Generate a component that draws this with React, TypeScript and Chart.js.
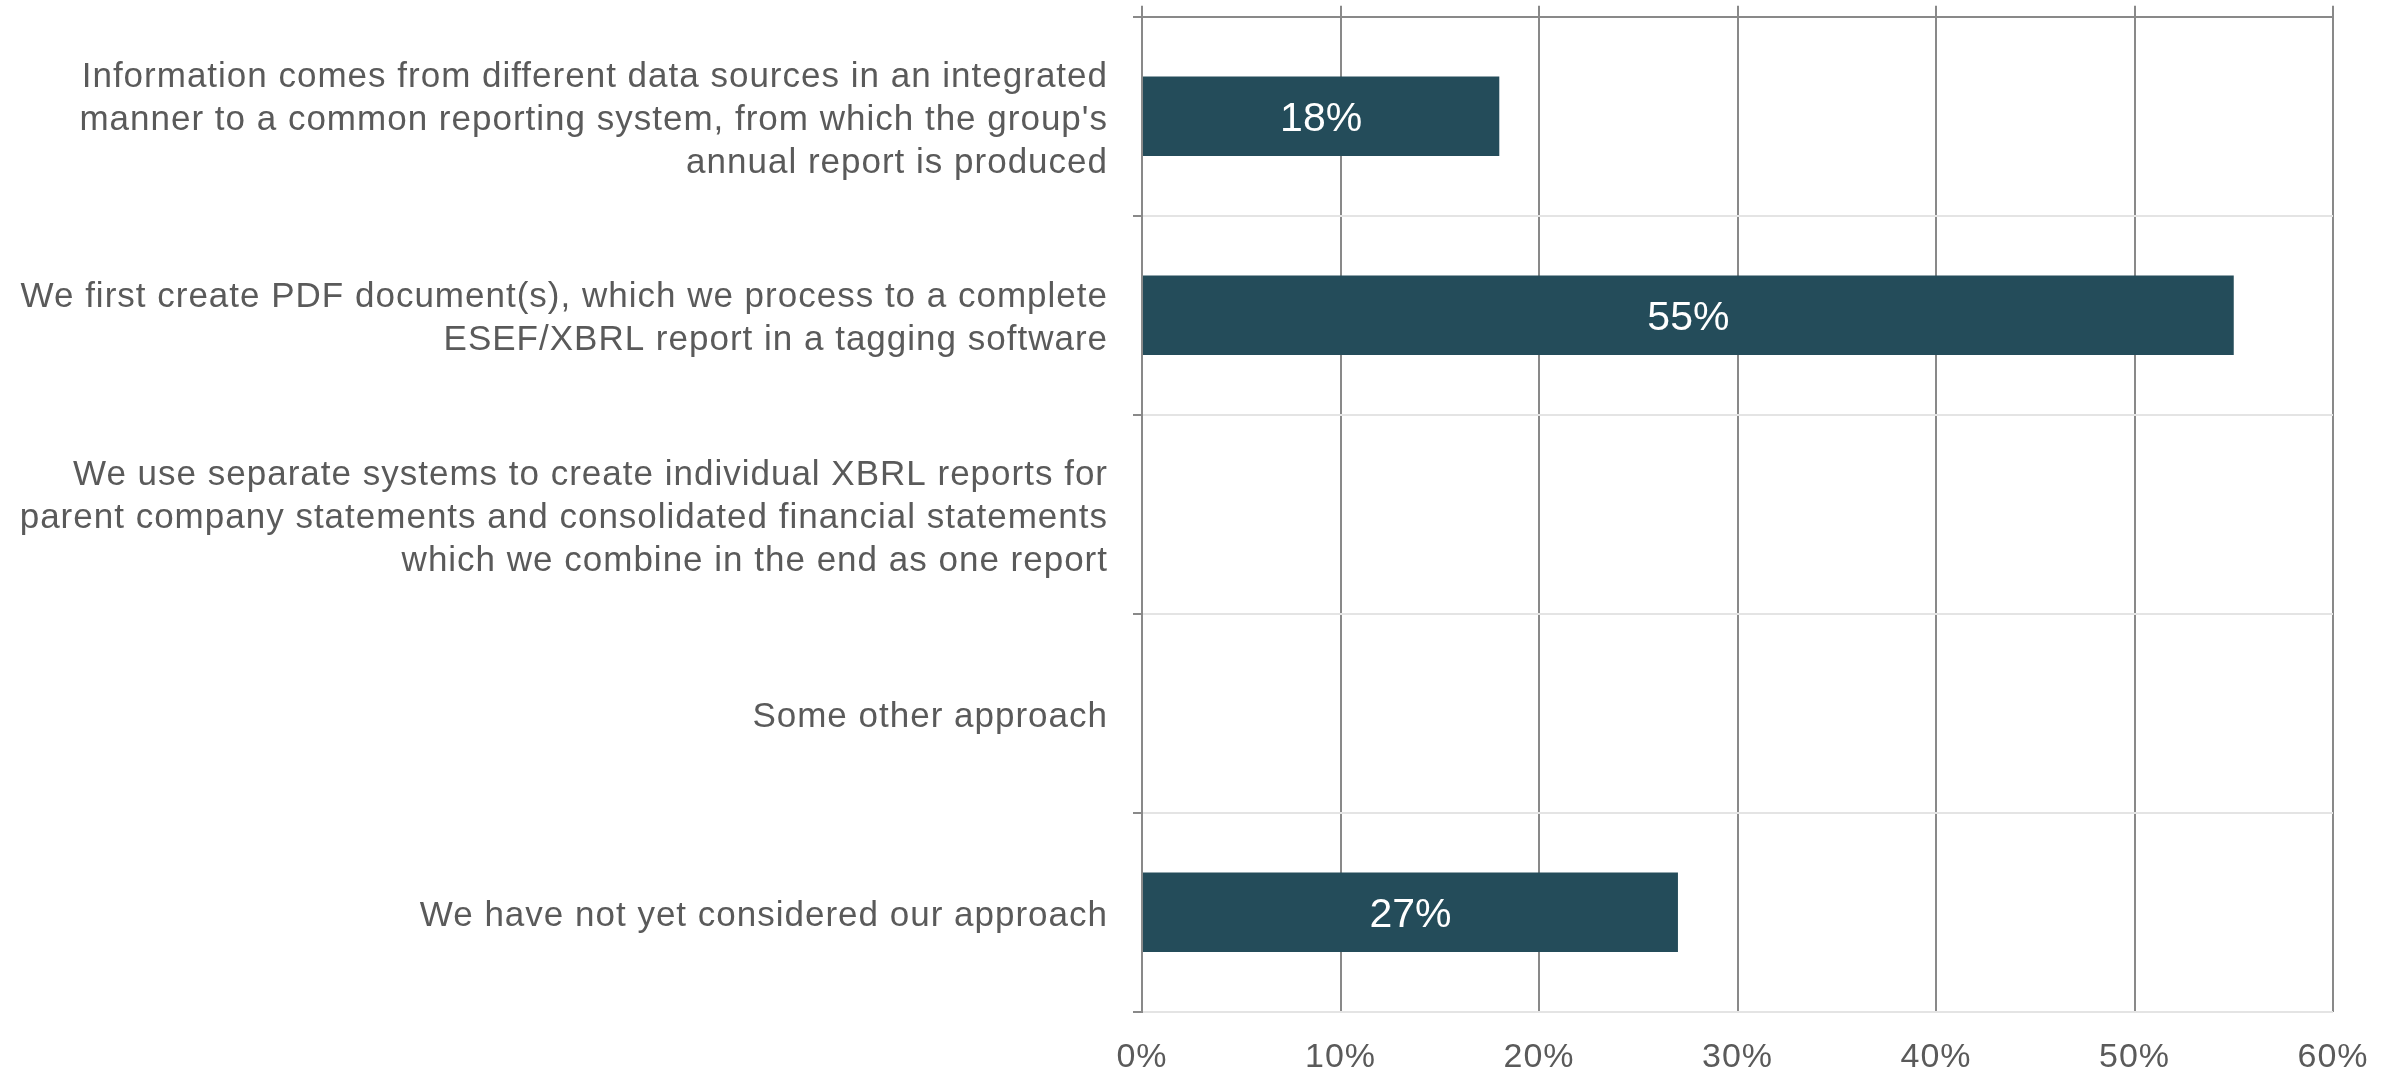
import React, { useEffect, useRef } from "react";
import { Chart, registerables } from "chart.js";

Chart.register(...registerables);

const categories: (string | string[])[] = [
  [
    "Information comes from different data sources in an integrated",
    "manner to a common reporting system, from which the group's",
    "annual report is produced",
  ],
  [
    "We first create PDF document(s), which we process to a complete",
    "ESEF/XBRL report in a tagging software",
  ],
  [
    "We use separate systems to create individual XBRL reports for",
    "parent company statements and consolidated financial statements",
    "which we combine in the end as one report",
  ],
  "Some other approach",
  "We have not yet considered our approach",
];

const values: number[] = [18, 55, 0, 0, 27];

const xMin = 0;
const xMax = 60;
const xStep = 10;

const FONT = '"Liberation Sans", Arial, sans-serif';
const TEXT = "#5a5a5a";
const DARK = "#898989";
const LIGHT = "#e4e4e4";
const BAR = "#244c5a";
const SPACING = "1px";

const spacingPlugin = {
  id: "letterSpacing",
  beforeUpdate(chart: any) {
    chart.ctx.letterSpacing = SPACING;
  },
  beforeLayout(chart: any) {
    chart.ctx.letterSpacing = SPACING;
  },
  beforeDraw(chart: any) {
    chart.ctx.letterSpacing = SPACING;
  },
};

const dataLabelPlugin = {
  id: "barValueLabels",
  afterDatasetsDraw(chart: any) {
    const ctx = chart.ctx;
    const meta = chart.getDatasetMeta(0);
    const ds = chart.data.datasets[0].data as number[];
    ctx.save();
    ctx.letterSpacing = "0px";
    ctx.font = `41px ${FONT}`;
    ctx.fillStyle = "#ffffff";
    ctx.textAlign = "center";
    ctx.textBaseline = "middle";
    meta.data.forEach((bar: any, i: number) => {
      const v = ds[i];
      if (!v) return;
      const x = (bar.x + bar.base) / 2;
      ctx.fillText(`${v}%`, x, bar.y + 3.5);
    });
    ctx.restore();
  },
};

export default function App() {
  const ref = useRef<HTMLCanvasElement | null>(null);

  useEffect(() => {
    if (!ref.current) return;
    const chart = new Chart(ref.current, {
      type: "bar",
      data: {
        labels: categories,
        datasets: [
          {
            data: values,
            backgroundColor: BAR,
            borderWidth: 0,
            barPercentage: 0.4,
            categoryPercentage: 1,
          },
        ],
      },
      plugins: [spacingPlugin, dataLabelPlugin],
      options: {
        indexAxis: "y",
        animation: false,
        responsive: true,
        maintainAspectRatio: false,
        layout: { padding: { left: 0, right: 66, top: 0, bottom: 0 } },
        plugins: {
          legend: { display: false },
          tooltip: { enabled: false },
        },
        scales: {
          x: {
            type: "linear",
            position: "bottom",
            min: xMin,
            max: xMax,
            ticks: {
              stepSize: xStep,
              color: TEXT,
              padding: 25.5,
              font: { family: FONT, size: 34, lineHeight: 1.2 },
              callback: (v: any) => `${v}%`,
            },
            grid: {
              color: DARK,
              lineWidth: 2,
              drawTicks: false,
            },
            border: { display: false },
            afterFit: (s: any) => {
              s.height = 63.3;
              s.paddingLeft = 0;
              s.paddingRight = 0;
            },
          },
          x2: {
            type: "linear",
            position: "top",
            min: xMin,
            max: xMax,
            ticks: { display: false, stepSize: xStep },
            grid: {
              drawOnChartArea: false,
              drawTicks: true,
              tickLength: 11,
              color: DARK,
              lineWidth: 2,
            },
            border: { display: false },
            afterFit: (s: any) => {
              s.height = 16.7;
              s.paddingLeft = 0;
              s.paddingRight = 0;
            },
          },
          y: {
            type: "category",
            position: "left",
            ticks: {
              color: TEXT,
              padding: 25,
              labelOffset: 4,
              font: { family: FONT, size: 35, lineHeight: 1.23 },
            },
            grid: {
              offset: true,
              color: (c: any) => (c.index === 0 ? DARK : LIGHT),
              tickColor: DARK,
              lineWidth: 2,
              tickLength: 9,
            },
            border: { display: true, color: DARK, width: 2 },
            afterFit: (s: any) => {
              s.width = 1142;
              s.paddingTop = 0;
              s.paddingBottom = 0;
            },
          },
        },
      },
    });
    return () => chart.destroy();
  }, []);

  return (
    <div
      style={{
        position: "fixed",
        left: 0,
        top: 0,
        width: 2399,
        height: 1075,
        background: "#ffffff",
      }}
    >
      <canvas ref={ref} />
    </div>
  );
}
